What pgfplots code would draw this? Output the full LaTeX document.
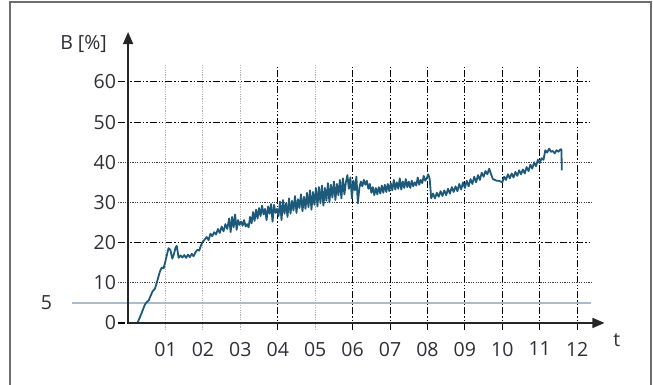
\documentclass[border=0pt]{standalone}
\usepackage{pgfplots}
\pgfplotsset{compat=1.18}
\usepackage{fontspec}
\setmainfont{Open Sans}
\usetikzlibrary{arrows.meta}
\definecolor{lineblue}{HTML}{1D5A7A}
\definecolor{fiveline}{HTML}{A8BCCC}
\definecolor{txt}{HTML}{2E2E38}
\definecolor{frame}{HTML}{6E6E6E}
\begin{document}
\begin{tikzpicture}
\path[use as bounding box] (0pt,0pt) rectangle (653pt,385pt);
\draw[frame, line width=1.6pt] (10pt,-10pt) rectangle (651pt,383pt);
\begin{axis}[
  at={(118pt,55pt)}, anchor=south west,
  scale only axis, width=473pt, height=265pt,
  xmin=-0.27, xmax=12.37, ymin=-1.75, ymax=64.2,
  clip=false,
  axis line style={draw=none},
  major tick length=0pt,
  xtick={4,6,7,8,9,10,11,12},
  xticklabels={04,06,07,08,09,10,11,12},
  ytick={0,20,50,60},
  yticklabels={0,20,50,60},
  extra x ticks={1,2,3,5},
  extra x tick labels={01,02,03,05},
  extra y ticks={10,30,40},
  extra y tick labels={10,30,40},
  grid=major,
  major grid style={black, line width=1.1pt, dash pattern=on 7pt off 2pt on 1.4pt off 2pt on 1.4pt off 2pt},
  extra x tick style={grid=major, major grid style={black!30, line width=1.1pt, dash pattern=on 1.2pt off 1.2pt}},
  extra y tick style={grid=major, major grid style={black!75, line width=0.8pt, dash pattern=on 1.2pt off 1.2pt}},
  every tick label/.append style={font=\fontsize{19.5}{23}\selectfont, text=txt},
  xticklabel style={yshift=-8.5pt},
  yticklabel style={xshift=1.5pt},
]
\draw[fiveline, line width=1.8pt] (axis cs:-1.51,5) -- (axis cs:12.37,5);
\addplot[lineblue, line width=1.8pt, line join=round] coordinates {
(0.25,0) (0.35,2.2) (0.45,4.6) (0.5,5.2) (0.55,5.6) (0.65,7.8) (0.72,8.6) (0.78,10.5) (0.85,12.8) (0.9,13.8) (0.95,13.6) (1.0,15.5) (1.08,18.6) (1.13,18.2) (1.18,16.0) (1.22,17.0) (1.27,18.8) (1.3,19.2) (1.35,16.2) (1.4,16.8) (1.45,16.3) (1.5,16.9) (1.55,16.2) (1.6,17.0) (1.65,16.4) (1.7,17.2) (1.75,16.6) (1.8,17.6) (1.85,18.2) (1.9,18.0) (1.95,19.4)
(2.0,20.2) (2.05,20.8) (2.1,21.4) (2.15,20.6) (2.2,22.2) (2.25,21.6) (2.3,22.6) (2.35,22.0) (2.4,23.4) (2.45,22.4) (2.5,24.0) (2.55,22.8) (2.6,24.6) (2.65,23.4) (2.7,26.0) (2.74,22.6) (2.78,26.4) (2.82,23.8) (2.86,27.0) (2.9,23.2) (2.94,25.6) (2.98,24.4)
(3.02,25.2) (3.06,24.2) (3.1,25.6) (3.14,24.0) (3.18,24.6) (3.22,23.8) (3.26,26.4) (3.3,24.8) (3.34,27.6) (3.38,25.4) (3.42,28.2) (3.46,26.0) (3.5,28.6) (3.54,26.6) (3.58,29.2) (3.62,27.0) (3.66,28.4) (3.7,25.6) (3.74,29.0) (3.78,27.2) (3.82,29.6) (3.86,25.2) (3.9,29.4) (3.94,27.4) (3.98,28.4)
(4.02,26.6) (4.06,30.2) (4.1,25.6) (4.14,30.6) (4.18,27.2) (4.22,29.8) (4.26,26.4) (4.3,31.0) (4.34,27.2) (4.38,30.4) (4.42,28.0) (4.46,31.6) (4.5,27.4) (4.54,30.8) (4.58,28.6) (4.62,32.0) (4.66,27.8) (4.7,31.4) (4.74,28.4) (4.78,32.4) (4.82,28.8) (4.86,33.0) (4.9,28.2) (4.94,32.6) (4.98,29.4)
(5.02,33.6) (5.06,29.0) (5.1,33.8) (5.14,29.8) (5.18,34.2) (5.22,29.2) (5.26,33.6) (5.3,30.4) (5.34,34.8) (5.38,30.0) (5.42,34.4) (5.46,31.2) (5.5,35.2) (5.54,30.6) (5.58,34.6) (5.62,31.8) (5.66,35.6) (5.7,31.0) (5.74,36.0) (5.78,32.0) (5.82,35.0) (5.86,36.8) (5.9,33.4) (5.94,36.2) (5.98,31.0)
(6.02,35.4) (6.06,33.0) (6.1,36.4) (6.14,29.8) (6.18,33.6) (6.22,35.2) (6.26,34.0) (6.3,35.6) (6.34,34.4) (6.38,35.4) (6.42,33.4) (6.46,34.6) (6.5,32.4) (6.54,33.8) (6.58,31.8) (6.62,33.6) (6.66,32.0) (6.7,33.8) (6.74,32.2) (6.78,34.2) (6.82,32.4) (6.86,34.4) (6.9,32.6) (6.94,34.6) (6.98,32.8)
(7.02,34.8) (7.06,33.0) (7.1,35.6) (7.14,33.2) (7.18,35.0) (7.22,33.4) (7.26,36.0) (7.3,33.2) (7.34,35.2) (7.38,33.6) (7.42,35.8) (7.46,33.8) (7.5,35.2) (7.54,33.6) (7.58,35.4) (7.62,34.0) (7.66,35.0) (7.7,34.2) (7.74,36.2) (7.78,34.4) (7.82,35.6) (7.86,34.8) (7.9,36.6) (7.94,35.4) (7.98,36.0)
(8.02,37.0) (8.06,35.8) (8.1,31.0) (8.15,32.2) (8.2,31.0) (8.25,32.4) (8.3,31.4) (8.35,32.8) (8.4,31.6) (8.45,33.0) (8.5,31.8) (8.55,33.4) (8.6,32.2) (8.65,33.8) (8.7,32.6) (8.75,34.0) (8.8,32.8) (8.85,34.6) (8.9,33.2) (8.95,35.0)
(9.0,33.6) (9.05,35.4) (9.1,34.0) (9.15,35.8) (9.2,34.6) (9.25,36.4) (9.3,35.0) (9.35,36.8) (9.4,35.6) (9.45,37.4) (9.5,36.4) (9.55,37.8) (9.6,37.0) (9.65,38.4) (9.7,37.0) (9.75,35.8) (9.8,35.6) (9.85,35.4) (9.9,35.4) (9.95,35.2)
(10.0,35.0) (10.05,36.4) (10.1,35.6) (10.15,37.0) (10.2,36.0) (10.25,37.2) (10.3,36.2) (10.35,37.6) (10.4,36.6) (10.45,38.0) (10.5,37.0) (10.55,38.2) (10.6,37.2) (10.65,38.8) (10.7,37.8) (10.75,39.4) (10.8,38.4) (10.85,40.0) (10.9,39.0) (10.95,40.6)
(11.0,39.8) (11.05,41.0) (11.1,40.6) (11.15,43.0) (11.2,42.4) (11.25,43.4) (11.3,42.6) (11.35,42.8) (11.4,42.2) (11.45,43.0) (11.5,42.6) (11.55,43.2) (11.58,43.2) (11.59,38.0)
};
\draw[black!85, line width=1.5pt, -{Triangle[length=12pt,width=10pt]}] (axis cs:0,0) -- (axis cs:12.73,0);
\draw[black!85, line width=1.5pt, -{Triangle[length=12pt,width=10pt]}] (axis cs:0,0) -- (axis cs:0,72.4);
\node[text=txt, font=\fontsize{19.5}{23}\selectfont] at (axis cs:-1.19,69.4) {B [\%]};
\node[text=txt, font=\fontsize{19.5}{23}\selectfont] at (axis cs:-2.18,5) {5};
\node[text=txt, font=\fontsize{19.5}{23}\selectfont] at (axis cs:13.06,-4.4) {t};
\end{axis}
\end{tikzpicture}
\end{document}
